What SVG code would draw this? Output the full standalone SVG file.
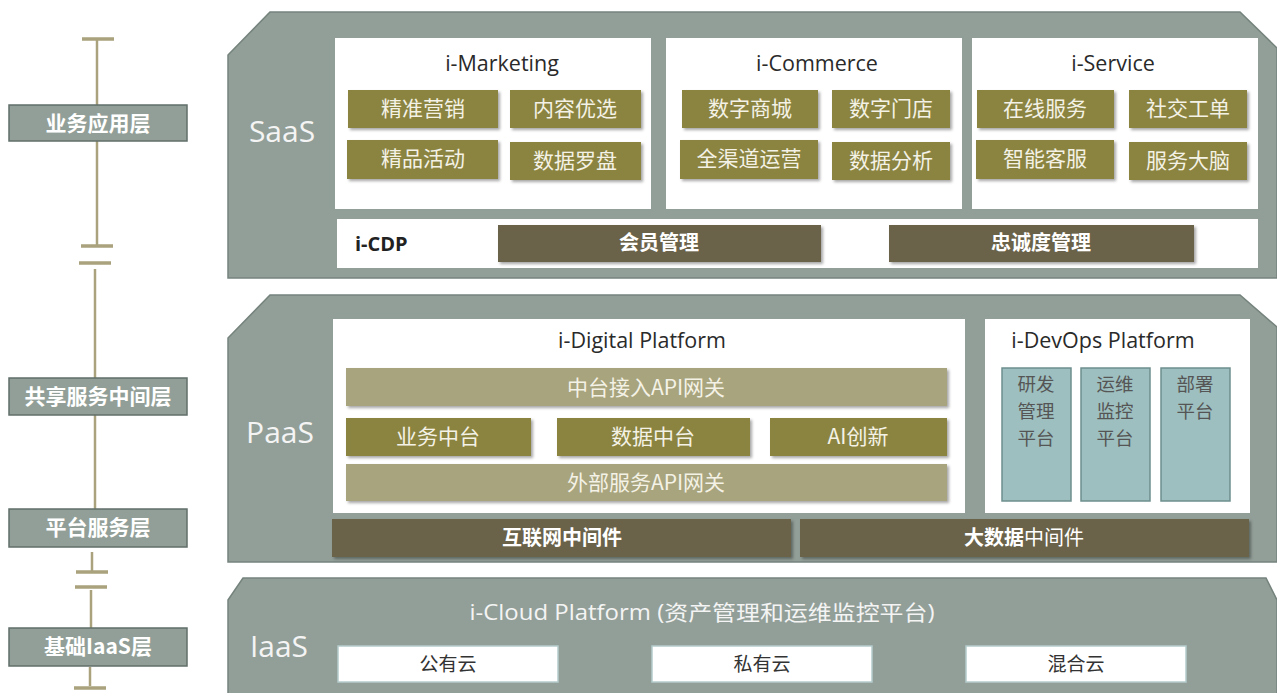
<svg xmlns="http://www.w3.org/2000/svg" width="1277" height="693" viewBox="0 0 1277 693">
<defs>
<filter id="sh" x="-10%" y="-20%" width="130%" height="160%">
<feDropShadow dx="2" dy="2" stdDeviation="1.5" flood-color="#000" flood-opacity="0.35"/>
</filter>
<style>
.panel{fill:#929f98;stroke:#75837d;stroke-width:1.5}
.white{fill:#ffffff}
.olive{fill:#8b843f}
.brown{fill:#6b624a}
.light{fill:#a8a47d}
.teal{fill:#9ebfbf;stroke:#6e8e8e;stroke-width:1.5}
.lbl{fill:#929f98;stroke:#606f69;stroke-width:1.5}
.conn{stroke:#a9a27c;stroke-width:2.5;fill:none}
.cap{stroke:#a9a27c;stroke-width:3.5;fill:none}
.t{font-family:"Open Sans","Noto Sans CJK SC",sans-serif;text-anchor:middle}
.cjk{font-family:"Noto Sans CJK SC","Noto Sans",sans-serif;text-anchor:middle}
.title{font-size:21.5px;fill:#2a2a2a}
.big{font-size:30px;fill:#f4f4f4}
.ot{font-size:21px;fill:#f4f2e6}
.bt{font-size:20px;fill:#ffffff;font-weight:bold}
.lt{font-size:21px;fill:#ffffff;font-weight:bold}
.dv{font-size:18.5px;fill:#555}
.ct{font-size:19px;fill:#333}
</style>
</defs>
<rect width="1277" height="693" fill="#ffffff"/>

<g id="connectors">
<line class="cap" x1="82" y1="39" x2="114" y2="39"/>
<line class="conn" x1="97" y1="39" x2="97" y2="105"/>
<line class="conn" x1="97" y1="141" x2="97" y2="245"/>
<line class="cap" x1="81" y1="246" x2="113" y2="246"/>
<line class="cap" x1="79" y1="263" x2="111" y2="263"/>
<line class="conn" x1="95" y1="269" x2="95" y2="378"/>
<line class="conn" x1="95" y1="415" x2="95" y2="509"/>
<line class="conn" x1="92" y1="552" x2="92" y2="571"/>
<line class="cap" x1="76" y1="572" x2="108" y2="572"/>
<line class="cap" x1="75" y1="587" x2="107" y2="587"/>
<line class="conn" x1="91" y1="590" x2="91" y2="628"/>
<line class="conn" x1="90" y1="667" x2="90" y2="686"/>
<line class="cap" x1="74" y1="688" x2="106" y2="688"/>
</g>

<g id="layer-app">
<rect class="lbl" x="9" y="105" width="178" height="36"/>
<text class="cjk lt" x="98" y="131">业务应用层</text>
</g>
<g id="layer-shared">
<rect class="lbl" x="9" y="378" width="178" height="37"/>
<text class="cjk lt" x="98" y="404">共享服务中间层</text>
</g>
<g id="layer-platform">
<rect class="lbl" x="9" y="509" width="178" height="38"/>
<text class="cjk lt" x="98" y="535">平台服务层</text>
</g>
<g id="layer-iaas">
<rect class="lbl" x="9" y="628" width="178" height="38"/>
<text class="cjk lt" x="98" y="654">基础IaaS层</text>
</g>

<g id="saas">
<polygon class="panel" points="228,55 270,12 1240,12 1277,48 1277,278 228,278"/>
<text class="t big" x="282" y="142">SaaS</text>
</g>
<g id="i-marketing">
<rect class="white" x="335" y="38" width="316" height="171"/>
<text class="t title" x="502" y="71">i-Marketing</text>
<rect class="olive" filter="url(#sh)" x="348" y="90" width="150" height="38"/>
<text class="cjk ot" x="423" y="116">精准营销</text>
<rect class="olive" filter="url(#sh)" x="510" y="90" width="131" height="38"/>
<text class="cjk ot" x="575" y="116">内容优选</text>
<rect class="olive" filter="url(#sh)" x="347" y="140" width="151" height="39"/>
<text class="cjk ot" x="423" y="166">精品活动</text>
<rect class="olive" filter="url(#sh)" x="510" y="142" width="131" height="38"/>
<text class="cjk ot" x="575" y="168">数据罗盘</text>
</g>
<g id="i-commerce">
<rect class="white" x="666" y="38" width="296" height="171"/>
<text class="t title" x="817" y="71">i-Commerce</text>
<rect class="olive" filter="url(#sh)" x="682" y="90" width="136" height="38"/>
<text class="cjk ot" x="750" y="116">数字商城</text>
<rect class="olive" filter="url(#sh)" x="832" y="90" width="118" height="38"/>
<text class="cjk ot" x="891" y="116">数字门店</text>
<rect class="olive" filter="url(#sh)" x="680" y="140" width="138" height="39"/>
<text class="cjk ot" x="749" y="166">全渠道运营</text>
<rect class="olive" filter="url(#sh)" x="832" y="142" width="118" height="38"/>
<text class="cjk ot" x="891" y="168">数据分析</text>
</g>
<g id="i-service">
<rect class="white" x="972" y="38" width="286" height="171"/>
<text class="t title" x="1113" y="71">i-Service</text>
<rect class="olive" filter="url(#sh)" x="977" y="90" width="137" height="38"/>
<text class="cjk ot" x="1045" y="116">在线服务</text>
<rect class="olive" filter="url(#sh)" x="1129" y="90" width="118" height="38"/>
<text class="cjk ot" x="1188" y="116">社交工单</text>
<rect class="olive" filter="url(#sh)" x="976" y="140" width="138" height="39"/>
<text class="cjk ot" x="1045" y="166">智能客服</text>
<rect class="olive" filter="url(#sh)" x="1129" y="142" width="118" height="38"/>
<text class="cjk ot" x="1188" y="168">服务大脑</text>
</g>
<g id="i-cdp">
<rect class="white" x="337" y="219" width="921" height="49"/>
<text class="t" x="355" y="251" style="text-anchor:start;font-size:20px;font-weight:bold;fill:#222">i-CDP</text>
<rect class="brown" filter="url(#sh)" x="498" y="225" width="323" height="37"/>
<text class="cjk bt" x="659" y="250">会员管理</text>
<rect class="brown" filter="url(#sh)" x="889" y="225" width="305" height="37"/>
<text class="cjk bt" x="1041" y="250">忠诚度管理</text>
</g>

<g id="paas">
<polygon class="panel" points="228,338 270,295 1240,295 1277,327 1277,562 228,562"/>
<text class="t big" x="280" y="443">PaaS</text>
</g>
<g id="i-digital">
<rect class="white" x="333" y="319" width="632" height="194"/>
<text class="t title" x="642" y="348">i-Digital Platform</text>
<rect class="light" filter="url(#sh)" x="346" y="368" width="601" height="38"/>
<text class="cjk ot" x="646" y="395">中台接入API网关</text>
<rect class="olive" filter="url(#sh)" x="346" y="418" width="185" height="38"/>
<text class="cjk ot" x="438" y="444">业务中台</text>
<rect class="olive" filter="url(#sh)" x="557" y="418" width="193" height="38"/>
<text class="cjk ot" x="653" y="444">数据中台</text>
<rect class="olive" filter="url(#sh)" x="770" y="418" width="177" height="38"/>
<text class="cjk ot" x="858" y="444">AI创新</text>
<rect class="light" filter="url(#sh)" x="346" y="464" width="601" height="37"/>
<text class="cjk ot" x="646" y="490">外部服务API网关</text>
</g>
<g id="i-devops">
<rect class="white" x="985" y="319" width="265" height="194"/>
<text class="t title" x="1103" y="348">i-DevOps Platform</text>
<rect class="teal" x="1002" y="368" width="69" height="133"/>
<text class="cjk dv" x="1036" y="391">研发</text>
<text class="cjk dv" x="1036" y="418">管理</text>
<text class="cjk dv" x="1036" y="445">平台</text>
<rect class="teal" x="1081" y="368" width="69" height="133"/>
<text class="cjk dv" x="1115" y="391">运维</text>
<text class="cjk dv" x="1115" y="418">监控</text>
<text class="cjk dv" x="1115" y="445">平台</text>
<rect class="teal" x="1161" y="368" width="69" height="133"/>
<text class="cjk dv" x="1195" y="391">部署</text>
<text class="cjk dv" x="1195" y="418">平台</text>
</g>
<g id="middleware">
<rect class="brown" filter="url(#sh)" x="332" y="519" width="459" height="38"/>
<text class="cjk bt" x="562" y="545">互联网中间件</text>
<rect class="brown" filter="url(#sh)" x="800" y="519" width="449" height="38"/>
<text class="cjk" x="1024" y="545" style="font-size:20px;fill:#ffffff"><tspan font-weight="bold">大数据</tspan>中间件</text>
</g>

<g id="iaas">
<polygon class="panel" points="228,600 243,578 1266,578 1277,600 1277,700 228,700"/>
<text class="t" x="279" y="657" style="font-size:29px;fill:#f4f4f4" textLength="58" lengthAdjust="spacingAndGlyphs">IaaS</text>
<text class="t" x="702" y="620" style="font-size:21px;fill:#f4f4f4" textLength="465" lengthAdjust="spacingAndGlyphs">i-Cloud Platform (资产管理和运维监控平台)</text>
</g>
<g id="public-cloud">
<rect class="white" x="338" y="646" width="220" height="36" stroke="#b4cccc" stroke-width="1.5"/>
<text class="cjk ct" x="448" y="671">公有云</text>
</g>
<g id="private-cloud">
<rect class="white" x="652" y="646" width="220" height="36" stroke="#b4cccc" stroke-width="1.5"/>
<text class="cjk ct" x="762" y="671">私有云</text>
</g>
<g id="hybrid-cloud">
<rect class="white" x="966" y="646" width="220" height="36" stroke="#b4cccc" stroke-width="1.5"/>
<text class="cjk ct" x="1076" y="671">混合云</text>
</g>
</svg>
